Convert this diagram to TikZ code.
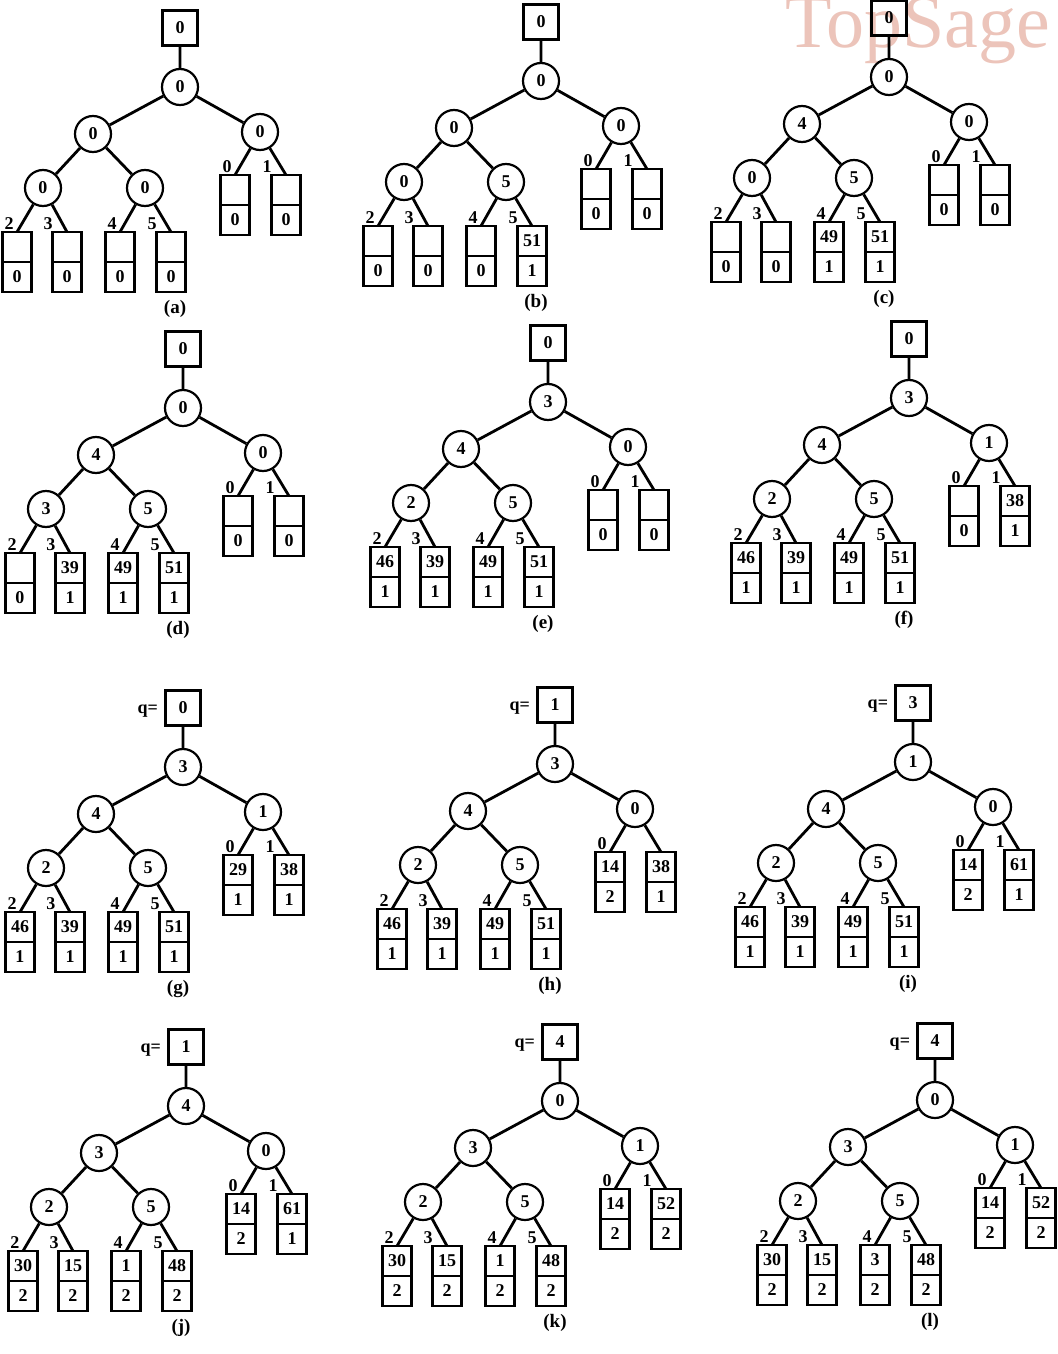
\documentclass[tikz,border=0pt]{standalone}
\usepackage{fontspec}
\setmainfont{Liberation Serif}
\usetikzlibrary{positioning}

\definecolor{wmpink}{RGB}{236,196,186}

\tikzset{
  ls/.style={draw,circle,line width=1.1pt,minimum size=18pt,inner sep=0pt,font=\fontsize{9}{10}\selectfont\bfseries},
  winbox/.style={draw,line width=1.1pt,minimum size=17.5pt,inner sep=0pt,font=\fontsize{9}{10}\selectfont\bfseries},
  cell/.style={draw,line width=1.1pt,minimum width=14.5pt,minimum height=15pt,inner sep=0pt,outer sep=0pt,font=\fontsize{9}{10}\selectfont\bfseries},
  link/.style={line width=1.4pt},
  idx/.style={inner sep=0pt,font=\fontsize{9}{10}\selectfont\bfseries},
  captxt/.style={font=\fontsize{9.5}{11}\selectfont\bfseries}
}

% [#1 shown leaf numbers] #2 name, #3 place of ls1, #4 ls0, #5 ls1/ls2/ls3/ls4/ls5, #6 leaves key/count, #7 caption
\newcommand{\losertree}[7][0,...,5]{%
  \begin{scope}[shift={#3}]
    \foreach \vA/\vB/\vC/\vD/\vE in {#5} {
      \node[ls] (#2-ls1) at (0,0) {\vA};
      \node[ls] (#2-ls2) at (-87,47) {\vB};
      \node[ls] (#2-ls3) at (80,45) {\vC};
      \node[ls] (#2-ls4) at (-137,101) {\vD};
      \node[ls] (#2-ls5) at (-35,101) {\vE};
    }
    \node[winbox] (#2-ls0) at (0,-59) {#4};
    \draw[link] (#2-ls0) -- (#2-ls1) (#2-ls1) -- (#2-ls2) (#2-ls1) -- (#2-ls3)
                (#2-ls2) -- (#2-ls4) (#2-ls2) -- (#2-ls5);
    \foreach \kv/\cv [count=\k from 0] in {#6} {
      \pgfmathsetmacro\lx{{55,106,-163,-113,-60,-9}[\k]}
      \pgfmathsetmacro\ly{{103,103,160,160,160,160}[\k]}
      \pgfmathtruncatemacro\pa{(\k+6)/2}
      \node[cell] (#2-key\k) at (\lx,\ly) {\kv};
      \node[cell,anchor=north] (#2-cnt\k) at (#2-key\k.south) {\cv};
      \draw[link] (#2-ls\pa) -- (#2-key\k.north);
    }
    \foreach \k in {#1} {
      \pgfmathsetmacro\lbx{ifthenelse(mod(\k,2)==0,-4,-9.5)}
      \node[idx] (#2-idx\k) at ([xshift=\lbx pt,yshift=4pt]#2-key\k.north) {\k};
    }
    \node[captxt] (#2-cap) at (-5,222) {#7};
  \end{scope}}

\begin{document}
\begin{tikzpicture}[x=0.5pt,y=-0.5pt]
  \useasboundingbox (0,0) rectangle (1058,1354);
  \node[anchor=base west,inner sep=0pt,text=wmpink,font=\fontsize{38}{38}\selectfont] (watermark) at (785,48) {TopSage};

  \losertree{a}{(180,87)}{0}{0/0/0/0/0}{/0,/0,/0,/0,/0,/0}{(a)}
  \losertree{b}{(541,81)}{0}{0/0/0/0/5}{/0,/0,/0,/0,/0,51/1}{(b)}
  \losertree{c}{(889,77)}{0}{0/4/0/0/5}{/0,/0,/0,/0,49/1,51/1}{(c)}
  \losertree{d}{(183,408)}{0}{0/4/0/3/5}{/0,/0,/0,39/1,49/1,51/1}{(d)}
  \losertree{e}{(548,402)}{0}{3/4/0/2/5}{/0,/0,46/1,39/1,49/1,51/1}{(e)}
  \losertree{f}{(909,398)}{0}{3/4/1/2/5}{/0,38/1,46/1,39/1,49/1,51/1}{(f)}
  \losertree{g}{(183,767)}{0}{3/4/1/2/5}{29/1,38/1,46/1,39/1,49/1,51/1}{(g)}
  \losertree[0,2,3,4,5]{h}{(555,764)}{1}{3/4/0/2/5}{14/2,38/1,46/1,39/1,49/1,51/1}{(h)}
  \losertree{i}{(913,762)}{3}{1/4/0/2/5}{14/2,61/1,46/1,39/1,49/1,51/1}{(i)}
  \losertree{j}{(186,1106)}{1}{4/3/0/2/5}{14/2,61/1,30/2,15/2,1/2,48/2}{(j)}
  \losertree{k}{(560,1101)}{4}{0/3/1/2/5}{14/2,52/2,30/2,15/2,1/2,48/2}{(k)}
  \losertree{l}{(935,1100)}{4}{0/3/1/2/5}{14/2,52/2,30/2,15/2,3/2,48/2}{(l)}

  \foreach \t in {g,h,i,j,k,l}
    \node[idx,left=3pt of \t-ls0,yshift=-1.5pt] (\t-q) {q=};
\end{tikzpicture}
\end{document}
